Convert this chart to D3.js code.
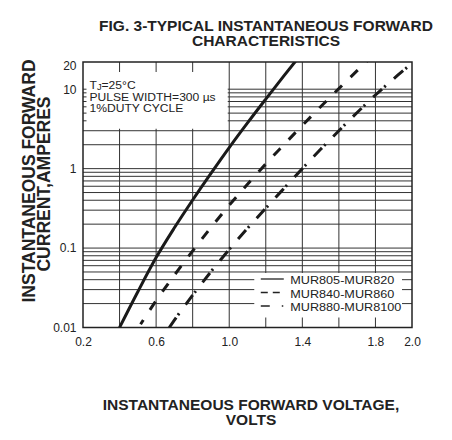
<!DOCTYPE html>
<html>
<head>
<meta charset="utf-8">
<script src="https://cdn.jsdelivr.net/npm/d3@7"></script>
<style>
    body { margin: 0; background: #fff; }
    text { font-family: "Liberation Sans", Arial, Helvetica, sans-serif; fill: #222; }
    .tick text { font-size: 12px; }
    .grid line { stroke: #333; stroke-width: 1; }
    .title { font-size: 15.5px; font-weight: bold; }
    .axis-label { font-size: 17.5px; font-weight: bold; }
    .note { font-size: 11px; }
    .legend-text { font-size: 11.5px; }
</style>
</head>
<body>
<div id="chart"></div>
<script>
// axis ticks and grid
var xTicks = [0.2, 0.6, 1.0, 1.4, 1.8, 2.0]
var xGrid = [0.4, 0.6, 0.8, 1.0, 1.2, 1.4, 1.6, 1.8]
var yTicks = [0.01, 0.1, 1, 10, 20]
var yTickLabels = ["0.01", "0.1", "1", "10", "20"]

// curves: forward voltage (V) vs forward current (A)
var seriesNames = ["MUR805-MUR820", "MUR840-MUR860", "MUR880-MUR8100"]

var volts805 = [0.40, 0.50, 0.60, 0.70, 0.80, 0.90, 1.00, 1.10, 1.20, 1.30, 1.38]
var amps805  = [0.010, 0.0282, 0.0759, 0.180, 0.403, 0.871, 1.84, 3.76, 7.5, 14.8, 25.2]

var volts840 = [0.515, 0.60, 0.70, 0.80, 0.90, 1.00, 1.10, 1.20, 1.30, 1.40, 1.50, 1.60, 1.70, 1.76]
var amps840  = [0.011, 0.0218, 0.0456, 0.092, 0.1815, 0.346, 0.637, 1.146, 2.01, 3.50, 6.01, 10.2, 17.1, 23.4]

var volts880 = [0.672, 0.70, 0.80, 0.90, 1.00, 1.10, 1.20, 1.30, 1.40, 1.50, 1.60, 1.70, 1.80, 1.90, 2.00]
var amps880  = [0.010, 0.0124, 0.0255, 0.0504, 0.096, 0.177, 0.318, 0.565, 1.0, 1.75, 3.0, 5.09, 8.45, 13.55, 21.2]

var noteLines = ["PULSE WIDTH=300 \u00b5s", "1%DUTY CYCLE"]

var width = 452, height = 440

var svg = d3.select("#chart")
    .append("svg")
        .attr("width", width)
        .attr("height", height)

var x = d3.scaleLinear()
    .domain([0.2, 2.0])
    .range([83, 412])

var y = d3.scaleLog()
    .domain([0.01, 22])
    .range([327.5, 62])

var series = [
    {name: seriesNames[0], v: volts805, a: amps805, dash: null, offset: 0, key: null},
    {name: seriesNames[1], v: volts840, a: amps840, dash: "10,12", offset: 5, key: "7,5"},
    {name: seriesNames[2], v: volts880, a: amps880, dash: "12,3,2,11", offset: 0, key: "9,12,1.5,20"}
]
series.forEach(function(s){
    s.points = s.v.map(function(d, i){ return {v: d, a: s.a[i]} })
})

// grid
var grid = svg.append("g").attr("class", "grid")

grid.selectAll(".vline")
    .data(xGrid)
    .enter().append("line")
        .attr("x1", d => x(d)).attr("x2", d => x(d))
        .attr("y1", y(22)).attr("y2", y(0.01))

grid.selectAll(".hline")
    .data(y.ticks().filter(d => d <= 10))
    .enter().append("line")
        .attr("x1", x(0.2)).attr("x2", x(2.0))
        .attr("y1", d => y(d)).attr("y2", d => y(d))

// white panels for the note and the legend
svg.append("rect")
    .attr("x", x(0.2) + 3.5)
    .attr("y", y(22) + 10)
    .attr("width", x(1.0) - 1.5 - (x(0.2) + 3.5))
    .attr("height", y(3) - 2 - (y(22) + 10))
    .attr("fill", "#fff")

var legX0 = x(1.2) - 11.5, legX1 = x(2.0) - 10
svg.append("rect")
    .attr("x", legX0)
    .attr("y", y(0.05) + 1)
    .attr("width", legX1 - legX0)
    .attr("height", y(0.01) - 10 - (y(0.05) + 1))
    .attr("fill", "#fff")

// frame
svg.append("rect")
    .attr("x", x(0.2)).attr("y", y(22))
    .attr("width", x(2.0) - x(0.2))
    .attr("height", y(0.01) - y(22))
    .attr("fill", "none")
    .attr("stroke", "#222")
    .attr("stroke-width", 1.5)

// curves
svg.append("clipPath").attr("id", "plot-clip")
    .append("rect")
        .attr("x", x(0.2)).attr("y", y(22))
        .attr("width", x(2.0) - x(0.2))
        .attr("height", y(0.01) - y(22))

var line = d3.line()
    .x(d => x(d.v))
    .y(d => y(d.a))
    .curve(d3.curveMonotoneX)

svg.append("g")
    .attr("clip-path", "url(#plot-clip)")
    .selectAll("path")
    .data(series)
    .enter().append("path")
        .attr("d", d => line(d.points))
        .attr("fill", "none")
        .attr("stroke", "#1a1a1a")
        .attr("stroke-width", 3)
        .attr("stroke-dasharray", d => d.dash)
        .attr("stroke-dashoffset", d => d.offset)

// axes
var xAxis = svg.append("g")
    .attr("transform", "translate(0," + y(0.01) + ")")
    .attr("color", "#222")
    .call(d3.axisBottom(x).tickValues(xTicks).tickSize(0).tickPadding(9.5).tickFormat(d3.format(".1f")))
xAxis.select(".domain").remove()

var yAxis = svg.append("g")
    .attr("transform", "translate(" + x(0.2) + ",0)")
    .attr("color", "#222")
    .call(d3.axisLeft(y).tickValues(yTicks).tickSize(0).tickPadding(6.5)
        .tickFormat((d, i) => yTickLabels[i]))
yAxis.select(".domain").remove()

// note (the scan is a little wide, so the text is stretched sideways)
var note = svg.append("g")
    .attr("class", "note")
    .attr("transform", "translate(89.5,0) scale(1.1,1)")
var tj = note.append("text")
    .attr("x", 0).attr("y", 89.5)
tj.append("tspan").text("T")
tj.append("tspan").attr("font-size", "8.5px").attr("dy", 1).text("J")
tj.append("tspan").attr("dy", -1).text("=25\u00b0C")

note.selectAll(".note-line")
    .data(noteLines)
    .enter().append("text")
        .attr("x", 0)
        .attr("y", (d, i) => 100.8 + i * 11.3)
        .text(d => d)

// legend
var legRows = [280, 293.5, 307]
var leg = svg.append("g")
    .selectAll("g")
    .data(series)
    .enter().append("g")
        .attr("transform", (d, i) => "translate(" + (legX0 + 6.5) + "," + legRows[i] + ")")

leg.append("line")
    .attr("x1", 0).attr("x2", 23)
    .attr("y1", -1).attr("y2", -1)
    .attr("stroke", "#222")
    .attr("stroke-width", 1.3)
    .attr("stroke-dasharray", d => d.key)

leg.append("text")
    .attr("class", "legend-text")
    .attr("transform", "translate(29.5,0) scale(1.1,1)")
    .attr("dy", "0.35em")
    .text(d => d.name)

// titles
svg.append("text")
    .attr("class", "title")
    .attr("text-anchor", "middle")
    .attr("x", 266).attr("y", 30.5)
    .text("FIG. 3-TYPICAL INSTANTANEOUS FORWARD")
svg.append("text")
    .attr("class", "title")
    .attr("text-anchor", "middle")
    .attr("x", 266).attr("y", 46)
    .text("CHARACTERISTICS")

svg.append("text")
    .attr("class", "title")
    .attr("text-anchor", "middle")
    .attr("x", 251).attr("y", 409.5)
    .text("INSTANTANEOUS FORWARD VOLTAGE,")
svg.append("text")
    .attr("class", "title")
    .attr("text-anchor", "middle")
    .attr("x", 251).attr("y", 425)
    .text("VOLTS")

svg.append("text")
    .attr("class", "axis-label")
    .attr("text-anchor", "middle")
    .attr("transform", "rotate(-90)")
    .attr("x", -181).attr("y", 35)
    .text("INSTANTANEOUS FORWARD")
svg.append("text")
    .attr("class", "axis-label")
    .attr("text-anchor", "middle")
    .attr("transform", "rotate(-90)")
    .attr("x", -184).attr("y", 50)
    .text("CURRENT,AMPERES")
</script>
</body>
</html>
